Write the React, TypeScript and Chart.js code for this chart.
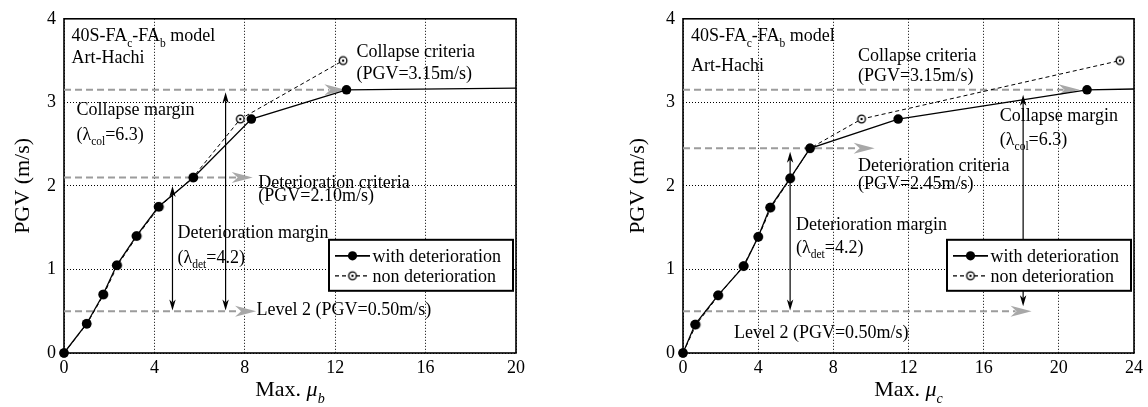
import React, { useEffect, useRef } from 'react';
import { Chart, registerables } from 'chart.js';
Chart.register(...registerables);

const FONT = '"Liberation Serif", "Times New Roman", serif';

// ---------- shared ticks ----------
const yTicks = [0, 1, 2, 3, 4];
const xTicksLeft = [0, 4, 8, 12, 16, 20];
const xTicksRight = [0, 4, 8, 12, 16, 20, 24];
const seriesNames = ['with deterioration', 'non deterioration'];

// ---------- left panel (Max. mu_b) ----------
const leftDetMu = [0, 1.0, 1.73, 2.33, 3.2, 4.18, 5.73, 8.29, 12.5, 20];
const leftDetPGV = [0, 0.35, 0.7, 1.05, 1.4, 1.75, 2.1, 2.8, 3.15, 3.17];
const leftNonMu = [0, 1.02, 1.76, 2.37, 3.24, 4.22, 5.7, 7.8, 12.35];
const leftNonPGV = [0, 0.35, 0.7, 1.05, 1.4, 1.75, 2.1, 2.8, 3.5];

const leftCriteriaPGV = [3.15, 2.1, 0.5];
const leftCriteriaTip = [12.45, 8.35, 8.5];
const leftMarginMu = [4.8, 7.15];
const leftMarginTop = [2.0, 3.12];
const leftMarginBottom = [0.51, 0.51];

const leftLabels = [
  '40S-FA_{c}-FA_{b} model', 'Art-Hachi', 'Collapse criteria', '(PGV=3.15m/s)',
  'Collapse margin', '(λ_{col}=6.3)', 'Deterioration criteria', '(PGV=2.10m/s)',
  'Deterioration margin', '(λ_{det}=4.2)', 'Level 2 (PGV=0.50m/s)',
];
const leftLabelMu = [0.33, 0.33, 12.94, 12.94, 0.55, 0.55, 8.6, 8.6, 5.02, 5.02, 8.52];
const leftLabelPGV = [3.73, 3.47, 3.54, 3.28, 2.85, 2.55, 1.98, 1.82, 1.38, 1.08, 0.45];

// ---------- right panel (Max. mu_c) ----------
const rightDetMu = [0, 0.64, 1.86, 3.24, 4.0, 4.63, 5.7, 6.76, 11.45, 21.5, 24];
const rightDetPGV = [0, 0.34, 0.69, 1.04, 1.39, 1.74, 2.09, 2.45, 2.8, 3.15, 3.16];
const rightNonMu = [0, 0.7, 1.9, 3.2, 4.02, 4.68, 5.72, 6.76, 9.5, 23.25];
const rightNonPGV = [0, 0.34, 0.69, 1.04, 1.39, 1.74, 2.09, 2.45, 2.8, 3.5];

const rightCriteriaPGV = [3.15, 2.45, 0.5];
const rightCriteriaTip = [21.1, 10.2, 18.55];
const rightMarginMu = [5.7, 18.1];
const rightMarginTop = [2.41, 3.09];
const rightMarginBottom = [0.51, 0.56];

const rightLabels = [
  '40S-FA_{c}-FA_{b} model', 'Art-Hachi', 'Collapse criteria', '(PGV=3.15m/s)',
  'Deterioration criteria', '(PGV=2.45m/s)', 'Collapse margin', '(λ_{col}=6.3)',
  'Deterioration margin', '(λ_{det}=4.2)', 'Level 2 (PGV=0.50m/s)',
];
const rightLabelMu = [0.43, 0.43, 9.31, 9.31, 9.31, 9.31, 16.86, 16.86, 6.01, 6.01, 2.71];
const rightLabelPGV = [3.73, 3.38, 3.5, 3.26, 2.18, 1.96, 2.78, 2.49, 1.47, 1.2, 0.18];

// ---------- helpers ----------
type Seg = { t: string; sub: boolean; italic: boolean };
function parseRich(s: string): Seg[] {
  const parts = s.split(/(_\{[^}]*\}|\*[^*]*\*)/).filter((p) => p.length > 0);
  return parts.map((p) => {
    if (p.startsWith('_{')) {
      let inner = p.slice(2, -1);
      let it = false;
      if (inner.startsWith('*')) { inner = inner.slice(1, -1); it = true; }
      return { t: inner, sub: true, italic: it };
    }
    if (p.startsWith('*')) return { t: p.slice(1, -1), sub: false, italic: true };
    return { t: p, sub: false, italic: false };
  });
}

function drawRich(ctx: CanvasRenderingContext2D, s: string, x: number, y: number, size: number, align: 'left' | 'center' = 'left') {
  const segs = parseRich(s);
  const fontOf = (g: Seg) => `${g.italic ? 'italic ' : ''}${g.sub ? size * 0.64 : size}px ${FONT}`;
  let total = 0;
  const ws = segs.map((g) => { ctx.font = fontOf(g); const w = ctx.measureText(g.t).width; total += w; return w; });
  let cx = align === 'center' ? x - total / 2 : x;
  ctx.textAlign = 'left';
  ctx.textBaseline = 'alphabetic';
  segs.forEach((g, i) => {
    ctx.font = fontOf(g);
    ctx.fillText(g.t, cx, g.sub ? y + size * 0.3 : y);
    cx += ws[i];
  });
}

function makeHollow(): HTMLCanvasElement {
  const c = document.createElement('canvas');
  c.width = 12; c.height = 12;
  const g = c.getContext('2d')!;
  g.beginPath(); g.arc(6, 6, 3.8, 0, Math.PI * 2); g.fillStyle = '#fff'; g.fill();
  g.lineWidth = 1.3; g.strokeStyle = '#000'; g.stroke();
  g.beginPath(); g.arc(6, 6, 1.2, 0, Math.PI * 2); g.fillStyle = '#000'; g.fill();
  return c;
}

interface Panel {
  canvasW: number;
  plot: { left: number; right: number; top: number; bottom: number };
  xTicks: number[];
  detMu: number[]; detPGV: number[]; nonMu: number[]; nonPGV: number[];
  critPGV: number[]; critTip: number[];
  marginMu: number[]; marginTop: number[]; marginBottom: number[];
  labels: string[]; labelMu: number[]; labelPGV: number[];
  xTitle: string; yTitleOffset: number;
}

const H = 407;

function grayArrow(ctx: CanvasRenderingContext2D, x0: number, x1: number, y: number) {
  const L = 21, hw = 5.5;
  ctx.save();
  ctx.strokeStyle = '#9c9c9c'; ctx.lineWidth = 2; ctx.setLineDash([7, 4]);
  ctx.beginPath(); ctx.moveTo(x0, y); ctx.lineTo(x1 - L + 5, y); ctx.stroke();
  ctx.setLineDash([]);
  ctx.fillStyle = '#a8a8a8';
  ctx.beginPath();
  ctx.moveTo(x1, y); ctx.lineTo(x1 - L, y - hw); ctx.lineTo(x1 - L + 6, y); ctx.lineTo(x1 - L, y + hw);
  ctx.closePath(); ctx.fill();
  ctx.restore();
}

function blackDoubleArrow(ctx: CanvasRenderingContext2D, x: number, yTop: number, yBot: number) {
  const L = 11, hw = 3.2;
  ctx.save();
  ctx.strokeStyle = '#000'; ctx.fillStyle = '#000'; ctx.lineWidth = 1.2;
  ctx.beginPath(); ctx.moveTo(x, yTop + L - 3); ctx.lineTo(x, yBot - L + 3); ctx.stroke();
  ctx.beginPath(); ctx.moveTo(x, yTop); ctx.lineTo(x - hw, yTop + L); ctx.lineTo(x, yTop + L - 3); ctx.lineTo(x + hw, yTop + L); ctx.closePath(); ctx.fill();
  ctx.beginPath(); ctx.moveTo(x, yBot); ctx.lineTo(x - hw, yBot - L); ctx.lineTo(x, yBot - L + 3); ctx.lineTo(x + hw, yBot - L); ctx.closePath(); ctx.fill();
  ctx.restore();
}

function makeDecor(p: Panel, hollow: HTMLCanvasElement) {
  return {
    id: 'decor',
    beforeDatasetsDraw(chart: any) {
      const ctx: CanvasRenderingContext2D = chart.ctx;
      const xs = chart.scales.x, ys = chart.scales.y;
      const a = chart.chartArea;
      ctx.save();
      ctx.strokeStyle = '#000'; ctx.lineWidth = 1.6;
      ctx.strokeRect(a.left, a.top, a.right - a.left, a.bottom - a.top);
      ctx.restore();
      p.critPGV.forEach((v, i) => grayArrow(ctx, a.left, xs.getPixelForValue(p.critTip[i]), ys.getPixelForValue(v)));
      p.marginMu.forEach((m, i) => blackDoubleArrow(ctx, xs.getPixelForValue(m), ys.getPixelForValue(p.marginTop[i]), ys.getPixelForValue(p.marginBottom[i])));
    },
    afterDraw(chart: any) {
      const ctx: CanvasRenderingContext2D = chart.ctx;
      const xs = chart.scales.x, ys = chart.scales.y;
      const a = chart.chartArea;
      ctx.save();
      // annotations text
      ctx.fillStyle = '#000';
      p.labels.forEach((s, i) => drawRich(ctx, s, xs.getPixelForValue(p.labelMu[i]), ys.getPixelForValue(p.labelPGV[i]), 18));
      // legend
      const lx = a.right - 187, ly = a.top + 221, lw = 184, lh = 51;
      ctx.fillStyle = '#fff'; ctx.fillRect(lx, ly, lw, lh);
      ctx.strokeStyle = '#000'; ctx.lineWidth = 2; ctx.strokeRect(lx, ly, lw, lh);
      const ds = chart.data.datasets;
      [0, 1].forEach((k) => {
        const d = ds[k];
        const yy = ly + 16 + k * 20;
        ctx.save();
        ctx.strokeStyle = '#000';
        ctx.lineWidth = k === 0 ? 1.8 : 1.2;
        ctx.setLineDash(d.borderDash || []);
        ctx.beginPath(); ctx.moveTo(lx + 6, yy); ctx.lineTo(lx + 41, yy); ctx.stroke();
        ctx.restore();
        if (k === 0) {
          ctx.fillStyle = '#000'; ctx.beginPath(); ctx.arc(lx + 23.5, yy, 4.6, 0, Math.PI * 2); ctx.fill();
        } else {
          ctx.drawImage(hollow, lx + 23.5 - 6, yy - 6);
        }
        ctx.fillStyle = '#000';
        ctx.font = `18px ${FONT}`; ctx.textAlign = 'left'; ctx.textBaseline = 'middle';
        ctx.fillText(d.label, lx + 43.5, yy + 1);
      });
      // axis titles
      ctx.fillStyle = '#000';
      drawRich(ctx, p.xTitle, (a.left + a.right) / 2, 396, 22, 'center');
      ctx.save();
      ctx.translate(a.left - p.yTitleOffset, (a.top + a.bottom) / 2);
      ctx.rotate(-Math.PI / 2);
      drawRich(ctx, 'PGV (m/s)', 0, 7, 22, 'center');
      ctx.restore();
      ctx.restore();
    },
  };
}

function buildChart(canvas: HTMLCanvasElement, p: Panel) {
  const hollow = makeHollow();
  const det = p.detMu.map((m, i) => ({ x: m, y: p.detPGV[i] }));
  const non = p.nonMu.map((m, i) => ({ x: m, y: p.nonPGV[i] }));
  const detRadius = det.map((_, i) => (i === det.length - 1 ? 0 : 4.8));
  const tickFont = { family: FONT, size: 18 };
  return new Chart(canvas, {
    type: 'line',
    data: {
      datasets: [
        {
          label: seriesNames[0], data: det, borderColor: '#000', backgroundColor: '#000',
          borderWidth: 1.3, pointRadius: detRadius, pointBackgroundColor: '#000', pointBorderWidth: 0,
          tension: 0, fill: false, clip: false,
        },
        {
          label: seriesNames[1], data: non, borderColor: '#000', backgroundColor: '#fff',
          borderWidth: 1, borderDash: [4, 3], pointStyle: hollow as any, pointRadius: 4,
          tension: 0, fill: false, clip: false,
        },
      ],
    },
    options: {
      responsive: false,
      animation: false,
      layout: { padding: { left: 0, right: p.canvasW - p.plot.right, top: p.plot.top, bottom: 0 } },
      plugins: { legend: { display: false }, tooltip: { enabled: false } },
      scales: {
        x: {
          type: 'linear', min: p.xTicks[0], max: p.xTicks[p.xTicks.length - 1],
          ticks: { stepSize: p.xTicks[1] - p.xTicks[0], font: tickFont, color: '#000', padding: 4, maxRotation: 0 },
          grid: { color: '#000', lineWidth: 1, drawTicks: false },
          border: { display: false, dash: [1, 2] },
          afterFit: (s: any) => { s.height = H - p.plot.bottom; },
        },
        y: {
          type: 'linear', min: yTicks[0], max: yTicks[yTicks.length - 1],
          ticks: { stepSize: yTicks[1] - yTicks[0], font: tickFont, color: '#000', padding: 8 },
          grid: { color: '#000', lineWidth: 1, drawTicks: false },
          border: { display: false, dash: [1, 2] },
          afterFit: (s: any) => { s.width = p.plot.left; },
        },
      },
    } as any,
    plugins: [makeDecor(p, hollow)],
  });
}

const leftPanel: Panel = {
  canvasW: 570, plot: { left: 64, right: 516, top: 16, bottom: 353 }, xTicks: xTicksLeft,
  detMu: leftDetMu, detPGV: leftDetPGV, nonMu: leftNonMu, nonPGV: leftNonPGV,
  critPGV: leftCriteriaPGV, critTip: leftCriteriaTip,
  marginMu: leftMarginMu, marginTop: leftMarginTop, marginBottom: leftMarginBottom,
  labels: leftLabels, labelMu: leftLabelMu, labelPGV: leftLabelPGV,
  xTitle: 'Max. *μ*_{*b*}', yTitleOffset: 42,
};
const rightPanel: Panel = {
  canvasW: 578, plot: { left: 113, right: 564, top: 16, bottom: 353 }, xTicks: xTicksRight,
  detMu: rightDetMu, detPGV: rightDetPGV, nonMu: rightNonMu, nonPGV: rightNonPGV,
  critPGV: rightCriteriaPGV, critTip: rightCriteriaTip,
  marginMu: rightMarginMu, marginTop: rightMarginTop, marginBottom: rightMarginBottom,
  labels: rightLabels, labelMu: rightLabelMu, labelPGV: rightLabelPGV,
  xTitle: 'Max. *μ*_{*c*}', yTitleOffset: 46,
};

export default function App() {
  const leftRef = useRef<HTMLCanvasElement>(null);
  const rightRef = useRef<HTMLCanvasElement>(null);
  useEffect(() => {
    const c1 = buildChart(leftRef.current!, leftPanel);
    const c2 = buildChart(rightRef.current!, rightPanel);
    return () => { c1.destroy(); c2.destroy(); };
  }, []);
  return (
    <div style={{ position: 'fixed', left: 0, top: 0, width: 1148, height: H, background: '#fff' }}>
      <canvas ref={leftRef} width={570} height={H} style={{ position: 'absolute', left: 0, top: 0, width: 570, height: H }} />
      <canvas ref={rightRef} width={578} height={H} style={{ position: 'absolute', left: 570, top: 0, width: 578, height: H }} />
    </div>
  );
}
